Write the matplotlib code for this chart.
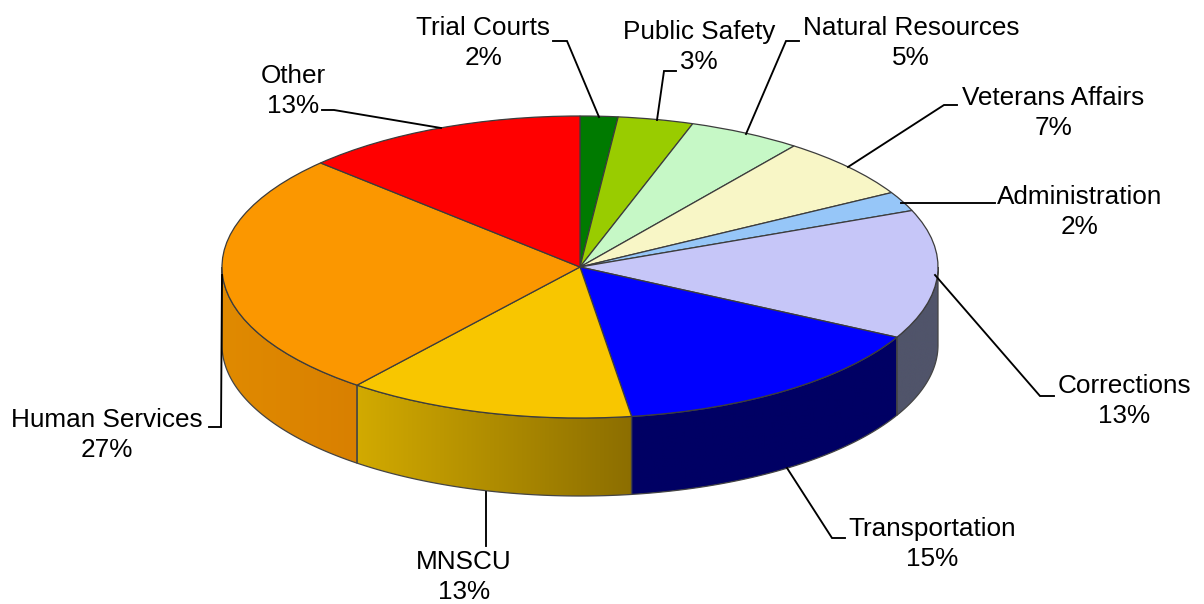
import numpy as np
import matplotlib
matplotlib.use('Agg')
import matplotlib.pyplot as plt
from matplotlib.colors import LinearSegmentedColormap

plt.rcParams['font.family'] = ['Liberation Sans', 'DejaVu Sans']

# Data, clockwise from the top of the pie
names = ['Trial Courts', 'Public Safety', 'Natural Resources', 'Veterans Affairs',
         'Administration', 'Corrections', 'Transportation', 'MNSCU',
         'Human Services', 'Other']
percent_labels = [2, 3, 5, 7, 2, 13, 15, 13, 27, 13]
shares = [1.7, 3.4, 5.1, 6.6, 2.1, 13.8, 15.0, 13.0, 26.4, 12.9]

colors = ['#007A00', '#99CC00', '#C6F8C6', '#F8F6C6', '#96C6F8',
          '#C6C6F8', '#0000FF', '#F8C600', '#FB9700', '#FF0000']
# left and right colour of the visible side walls
wall_colors = {
    'Corrections': ('#50546A', '#50546A'),
    'Transportation': ('#000064', '#000064'),
    'MNSCU': ('#D2AA00', '#8C6E00'),
    'Human Services': ('#E08A00', '#D98000'),
}

# Pie geometry in pixels
cx, cy = 580, 267
rx, ry = 358, 151
depth = 78 / ry
W, H = 1204, 604

# Label centres and leader lines in pixels
label_pos = [(483, 43), (699, 47), (911, 43), (1053, 113), (1080, 212),
             (1124, 401), (932, 544), (464, 577), (107, 435), (293, 91)]
leaders = [
    [(553, 41), (567, 41), (599, 117)],
    [(676, 71), (664, 71), (657, 120)],
    [(799, 41), (786, 41), (746, 134)],
    [(957, 105), (944, 105), (848, 167)],
    [(995, 203), (901, 203)],
    [(1054, 396), (1040, 396), (935, 275)],
    [(845, 538), (832, 538), (787, 468)],
    [(486, 546), (486, 492)],
    [(209, 427), (221, 427), (222, 275)],
    [(322, 110), (334, 110), (441, 128)],
]


def px(x, y):
    # pixel position to pie units
    return (x - cx) / rx, (cy - y) / ry


fig = plt.figure(figsize=(W / 100, H / 100), dpi=100)
ax = fig.add_axes([0, 0, 1, 1])

wedges, _ = ax.pie(shares, colors=colors, startangle=90, counterclock=False,
                   wedgeprops={'edgecolor': '#3c3c3c', 'linewidth': 0.9, 'zorder': 3})

# Side walls
for wedge, name in zip(wedges, names):
    if name not in wall_colors:
        continue
    for shift in (-360, 0, 360):
        lo = max(wedge.theta1 + shift, 180)
        hi = min(wedge.theta2 + shift, 360)
        if lo >= hi:
            continue
        t = np.radians(np.linspace(lo, hi, 100))
        xs = np.concatenate([np.cos(t), np.cos(t)[::-1]])
        ys = np.concatenate([np.sin(t), np.sin(t)[::-1] - depth])
        poly = ax.fill(xs, ys, facecolor='none', edgecolor='#444444',
                       linewidth=0.9, zorder=2)[0]
        cmap = LinearSegmentedColormap.from_list(name, wall_colors[name])
        grad = np.linspace(0, 1, 256).reshape(1, -1)
        im = ax.imshow(grad, cmap=cmap, aspect='auto', zorder=1,
                       extent=[xs.min(), xs.max(), ys.min(), ys.max()])
        im.set_clip_path(poly)

ax.set_aspect('auto')
ax.set_xlim(px(0, 0)[0], px(W, 0)[0])
ax.set_ylim(px(0, H)[1], px(0, 0)[1])
ax.axis('off')

# Leader lines
for line in leaders:
    pts = [px(x, y) for x, y in line]
    ax.plot([p[0] for p in pts], [p[1] for p in pts], color='black',
            linewidth=1.35, zorder=4, solid_joinstyle='miter')

# Labels
for name, pct, pos in zip(names, percent_labels, label_pos):
    x, y = px(*pos)
    ax.text(x, y, f'{name}\n{pct}%', ha='center', va='center', fontsize=18.85,
            linespacing=1.27, color='black', zorder=5)

fig.savefig('out.png', dpi=100)
